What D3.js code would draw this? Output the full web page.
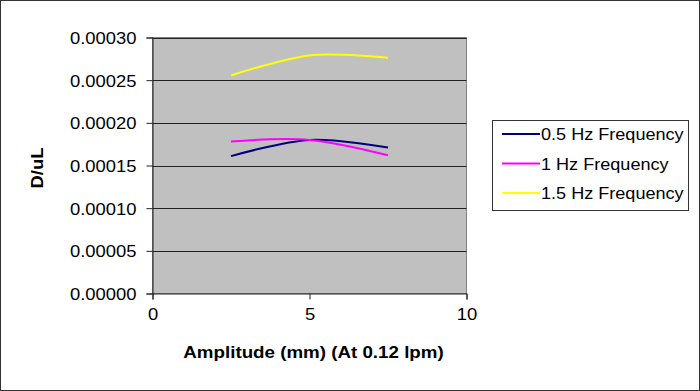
<!DOCTYPE html>
<html><head><meta charset="utf-8">
<script src="https://cdn.jsdelivr.net/npm/d3@7"></script>
<style>body{margin:0;background:#fff;}svg{display:block;font-family:Arial,"Liberation Sans",sans-serif;}</style>
</head><body>
<svg id="c" width="700" height="391"></svg>
<script>
const amplitudes = [2.5, 5, 7.5];
const seriesNames = ["0.5 Hz Frequency", "1 Hz Frequency", "1.5 Hz Frequency"];
const seriesColors = ["#000080", "#FF00FF", "#FFFF00"];
const hz05 = [0.000161, 0.000180, 0.000171];
const hz1 = [0.000178, 0.000180, 0.000162];
const hz15 = [0.0002555, 0.000279, 0.0002762];
const yTicks = [0, 0.00005, 0.0001, 0.00015, 0.0002, 0.00025, 0.0003];
const xTicks = [0, 5, 10];
const seriesValues = [hz05, hz1, hz15];

const svg = d3.select("#c");
const L = 152.5, R = 466.5, T = 37.5, B = 293.5;
const x = d3.scaleLinear().domain([0, 10]).range([L, R]);
const y = d3.scaleLinear().domain([0, 0.0003]).range([B, T]);
const sx = 1.13;

// outer border
svg.append("rect").attr("x",0.5).attr("y",0.5).attr("width",699).attr("height",390)
  .attr("fill","#fff").attr("stroke","#333").attr("stroke-width",1);

// plot area
svg.append("rect").attr("x",L).attr("y",T).attr("width",R-L).attr("height",B-T)
  .attr("fill","#C0C0C0").attr("stroke","#808080").attr("stroke-width",1);

// gridlines
svg.append("g").selectAll("line").data(yTicks.filter(d=>d>0)).join("line")
  .attr("x1",L).attr("x2",R).attr("y1",d=>Math.round(y(d))+0.5).attr("y2",d=>Math.round(y(d))+0.5)
  .attr("stroke","#222").attr("stroke-width",1);

// axes
const yAxis = d3.axisLeft(y).tickValues(yTicks).tickSize(6).tickFormat(d=>d.toFixed(5));
const gy = svg.append("g").attr("transform",`translate(${L},0)`).call(yAxis);
gy.select(".domain").attr("stroke","#222");
gy.selectAll(".tick line").attr("stroke","#222");
gy.selectAll(".tick text").attr("fill","#000").attr("font-size",16.3)
  .attr("x",null).attr("dy",null).attr("text-anchor","end")
  .attr("transform","translate(-16,6) scale(" + sx + ",1)");

const xAxis = d3.axisBottom(x).tickValues(xTicks).tickSize(6).tickFormat(d3.format("d"));
const gx = svg.append("g").attr("transform",`translate(0,${B})`).call(xAxis);
gx.select(".domain").attr("stroke","#222");
gx.selectAll(".tick line").attr("stroke","#222");
gx.selectAll(".tick text").attr("fill","#000").attr("font-size",16.3)
  .attr("y",null).attr("dy",null).attr("text-anchor","middle")
  .attr("transform","translate(0,26) scale(" + sx + ",1)");

// lines
const line = d3.line().x((d,i)=>x(amplitudes[i])).y(d=>y(d)).curve(d3.curveCatmullRom.alpha(0));
seriesValues.forEach((vals,k)=>{
  svg.append("path").datum(vals).attr("d",line).attr("fill","none")
    .attr("stroke",seriesColors[k]).attr("stroke-width",2);
});

// titles
svg.append("text").attr("transform",`translate(313.5,358) scale(${sx},1)`)
  .attr("text-anchor","middle").attr("font-weight","bold").attr("font-size",16.6)
  .text("Amplitude (mm) (At 0.12 lpm)");
svg.append("text").attr("transform",`translate(43,168) rotate(-90) scale(${sx},1)`)
  .attr("text-anchor","middle").attr("font-weight","bold").attr("font-size",16.3)
  .text("D/uL");

// legend
const lg = svg.append("g");
lg.append("rect").attr("x",492.5).attr("y",120.5).attr("width",196).attr("height",90)
  .attr("fill","#fff").attr("stroke","#333").attr("stroke-width",1);
seriesNames.forEach((n,k)=>{
  const cy = 134 + k*29.5;
  lg.append("line").attr("x1",502).attr("x2",540).attr("y1",cy).attr("y2",cy)
    .attr("stroke",seriesColors[k]).attr("stroke-width",2);
  lg.append("text").attr("transform",`translate(541,${cy+6}) scale(${sx},1)`)
    .attr("font-size",16).attr("fill","#000").text(n);
});
</script>
</body></html>
